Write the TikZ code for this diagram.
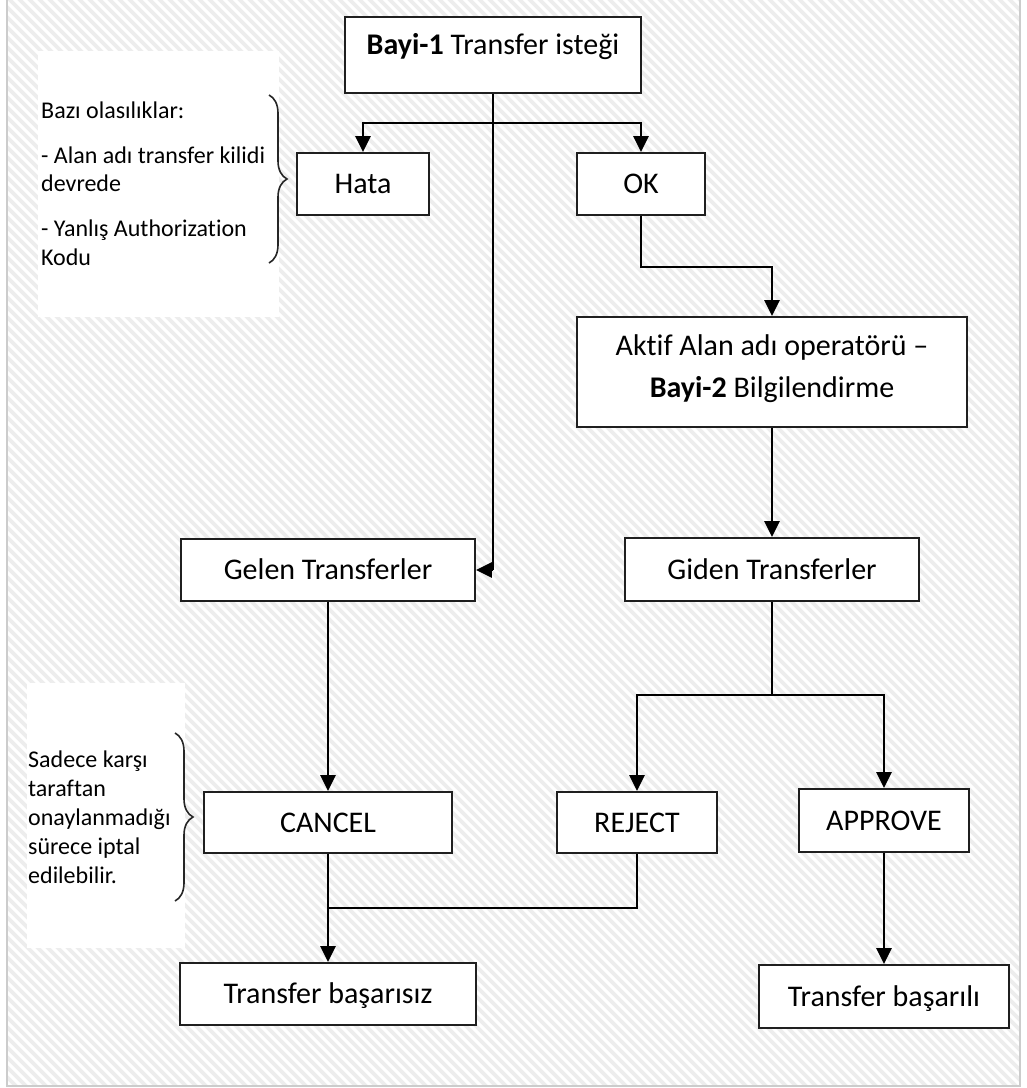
\documentclass[tikz,border=0pt]{standalone}
\usepackage{fontspec}
\setmainfont{Carlito}[Ligatures=NoCommon]
\usetikzlibrary{arrows.meta,decorations.pathreplacing}
\begin{document}
\begin{tikzpicture}[x=1pt,y=-1pt,
  flowbox/.style={draw=black!88,line width=1.8pt,fill=white,inner sep=0pt,
    font=\fontsize{30}{36}\selectfont,text height=19pt,text depth=0pt},
  conn/.style={line width=2.6pt,black},
  arr/.style={conn,-{Triangle[length=16pt,width=15pt]}},
  note/.style={align=left,inner sep=0pt,anchor=base west},
  curly/.style={draw=black!85,line width=1.6pt,decorate,decoration={brace,amplitude=18pt}}]
\useasboundingbox (0,0) rectangle (1027,1088);
\fill[white] (0,0) rectangle (1027,1088);
% hatched background
\begin{scope}
\clip (7,0) rectangle (1020,1086);
\foreach \k in {-1100,-1090,...,1030} {
  \draw[black!7,line width=3.6pt] (\k,-10) -- (\k+1110,1100);
}
\end{scope}
\draw[black!20,line width=2pt] (7,-10) rectangle (1020,1086);
% white callout panels
\fill[white] (38,51) rectangle (279,317);
\fill[white] (27,683) rectangle (185,948);

% boxes
\node[flowbox,minimum width=296pt,minimum height=76pt,text depth=20pt] (top) at (493,55) {\textbf{Bayi-1} Transfer isteği};
\node[flowbox,minimum width=132pt,minimum height=62pt] (hata) at (363,184) {Hata};
\node[flowbox,minimum width=128pt,minimum height=62pt] (ok) at (641,184) {OK};
\node[flowbox,minimum width=390pt,minimum height=110pt,text height=,text depth=] (aktif) at (772,372)
  {\raisebox{3pt}[\height][\depth]{\begin{tabular}{@{}c@{}}Aktif Alan adı operatörü –\\[6pt]\textbf{Bayi-2} Bilgilendirme\end{tabular}}};
\node[flowbox,minimum width=294pt,minimum height=62pt] (gel) at (328,570) {Gelen Transferler};
\node[flowbox,minimum width=294pt,minimum height=63pt] (giden) at (772,569.5) {Giden Transferler};
\node[flowbox,minimum width=248pt,minimum height=61pt] (can) at (328,822.5) {CANCEL};
\node[flowbox,minimum width=160pt,minimum height=61pt] (rej) at (637,822.5) {REJECT};
\node[flowbox,minimum width=170pt,minimum height=63pt] (app) at (884,820.5) {APPROVE};
\node[flowbox,minimum width=296pt,minimum height=62pt] (fail) at (328,994) {Transfer başarısız};
\node[flowbox,minimum width=250pt,minimum height=63pt] (succ) at (884,996.5) {Transfer başarılı};

% notes (base = baseline of last line)
\node[note,font=\fontsize{24}{28.5}\selectfont] (n1) at (41,265) {Bazı olasılıklar:\\[16.5pt]- Alan adı transfer kilidi\\devrede\\[16.5pt]- Yanlış Authorization\\Kodu};
\node[note,font=\fontsize{24}{29}\selectfont] (n2) at (28,883) {Sadece karşı\\taraftan\\onaylanmadığı\\sürece iptal\\edilebilir.};
\coordinate (b1s) at (269,95);
\coordinate (b1e) at (269,263);
\coordinate (b2s) at (175,733);
\coordinate (b2e) at (175,901);
\draw[curly] (b1s) -- (b1e);
\draw[curly] (b2s) -- (b2e);

% connectors
\coordinate (br) at (493,123);
\draw[conn] (top.south) -- (top.south |- gel.east);
\draw[arr] (top.south |- gel.east) -- (gel.east);
\draw[arr] (br) -| (hata.north);
\draw[arr] (br) -| (ok.north);
\draw[arr] (ok.south) -- ++(0,51) -| (aktif.north);
\draw[arr] (aktif.south) -- (giden.north);
\coordinate (j2) at (772,695);
\draw[conn] (giden.south) -- (j2);
\draw[arr] (j2) -| (rej.north);
\draw[arr] (j2) -| (app.north);
\draw[arr] (gel.south) -- (can.north);
\coordinate (j3) at (328,908);
\draw[arr] (can.south) -- (fail.north);
\draw[conn] (rej.south) |- (j3);
\draw[arr] (app.south) -- (succ.north);
\end{tikzpicture}
\end{document}
